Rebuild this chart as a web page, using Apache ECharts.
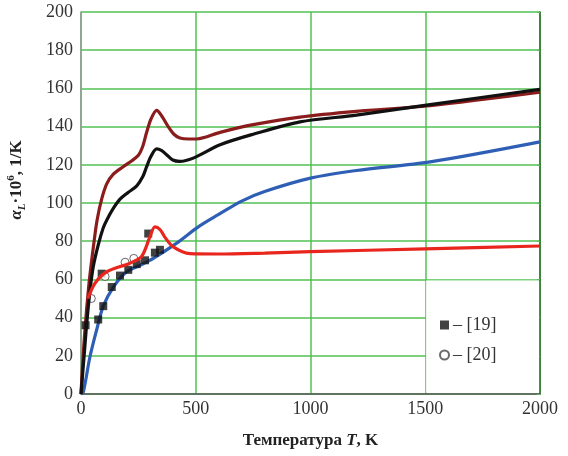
<!DOCTYPE html>
<html>
<head>
<meta charset="utf-8">
<script src="https://cdn.jsdelivr.net/npm/echarts@6/dist/echarts.min.js"></script>
<style>
  html, body { margin: 0; padding: 0; background: #fff; }
  #chart { width: 568px; height: 456px; }
</style>
</head>
<body>
<div id="chart"></div>
<script>
// curve data (T in K, alpha*1e6 in 1/K)
const darkRedT = [0, 15, 35, 55, 70, 90, 112, 140, 184, 220, 250, 270, 286, 305, 330, 355, 380, 405, 431, 470, 504, 606, 750, 954, 1200, 1521, 2000];
const darkRedV = [0, 30, 58, 78, 91, 102, 110, 115, 119, 122, 125, 130, 137, 144, 148.5, 145, 140, 136, 134, 133.5, 133.5, 137, 141, 145, 148, 151, 158];

const blackT = [0, 15, 25, 40, 54, 75, 97, 112, 140, 170, 205, 243, 270, 286, 305, 330, 350, 373, 400, 430, 489, 606, 750, 954, 1200, 1521, 2000];
const blackV = [0, 22, 37, 55, 67, 78, 87, 91, 97, 102, 105.5, 109, 114, 119, 124.5, 128.3, 127.5, 125.3, 122.5, 121.8, 123.5, 130.5, 136, 142.5, 146, 151.5, 159.5];

const blueT = [0, 10, 39, 68, 97, 141, 199, 260, 315, 417, 511, 600, 700, 800, 1000, 1200, 1521, 2000];
const blueV = [0, 1, 19.5, 33.5, 46, 56, 64, 67.5, 71, 79, 87.5, 94, 101, 106, 113, 117, 121.5, 132];

const redT = [30, 61, 112, 213, 264, 301, 322, 345, 366, 402, 475, 600, 800, 1000, 1500, 2000];
const redV = [50, 58, 64, 68.5, 72, 82.5, 87.5, 86, 82, 77, 73.5, 73.3, 73.8, 74.5, 76, 77.5];

// experimental points
const ref19T = [20, 75, 90, 97, 134, 170, 206, 243, 279, 293, 322, 344];
const ref19V = [36, 39, 63, 46, 56, 62, 65, 68, 70, 84, 74, 75.5];
const ref20T = [45, 105, 192, 230];
const ref20V = [50, 61.5, 69, 71];

const xTicks = { min: 0, max: 2000, step: 500 };
const yTicks = { min: 0, max: 200, step: 20 };

const pairs = (xs, ys) => xs.map((x, i) => [x, ys[i]]);

const serif = 'Liberation Serif';
const gridGreen = '#52c152';
const textColor = '#222';

const chart = echarts.init(document.getElementById('chart'));

const lineSeries = (name, xs, ys, color, z) => ({
  name: name,
  type: 'line',
  data: pairs(xs, ys),
  smooth: 0.3,
  showSymbol: false,
  lineStyle: { color: color, width: 3.2 },
  z: z
});

const option = {
  animation: false,
  backgroundColor: '#fff',
  grid: { left: 81, right: 28, top: 12, bottom: 62 },
  legend: {
    orient: 'vertical',
    left: 434,
    top: 311,
    itemWidth: 9,
    itemHeight: 9,
    itemGap: 12,
    data: [
      { name: '– [19]', icon: 'rect' },
      { name: '– [20]', icon: 'circle' }
    ],
    textStyle: { fontFamily: serif, fontSize: 18, color: '#333', padding: [0, 0, 0, -1] }
  },
  // y axis title, placed like the original
  graphic: [{
    type: 'text',
    x: 17,
    y: 180,
    rotation: Math.PI / 2,
    style: {
      text: '{a|α}{s|L}{n|·10}{p|6}{n|, 1/K}',
      align: 'center',
      verticalAlign: 'middle',
      rich: {
        a: { fontFamily: serif, fontSize: 17, fontWeight: 'bold', fontStyle: 'italic', fill: textColor, lineHeight: 22 },
        s: { fontFamily: serif, fontSize: 11, fontWeight: 'bold', fontStyle: 'italic', fill: textColor, lineHeight: 22, verticalAlign: 'bottom', padding: [6, 0, 0, 0] },
        n: { fontFamily: serif, fontSize: 17, fontWeight: 'bold', fill: textColor, lineHeight: 22 },
        p: { fontFamily: serif, fontSize: 11, fontWeight: 'bold', fill: textColor, lineHeight: 22, verticalAlign: 'top', padding: [0, 0, 6, 0] }
      }
    }
  }],
  xAxis: {
    type: 'value',
    min: xTicks.min,
    max: xTicks.max,
    interval: xTicks.step,
    name: '{b|Температура }{i|T}{b|, K}',
    nameLocation: 'middle',
    nameGap: 38,
    nameTextStyle: {
      rich: {
        b: { fontFamily: serif, fontSize: 17, fontWeight: 'bold', color: textColor },
        i: { fontFamily: serif, fontSize: 17, fontWeight: 'bold', fontStyle: 'italic', color: textColor }
      }
    },
    axisLine: { lineStyle: { color: '#555', width: 1.5 } },
    axisTick: { show: false },
    axisLabel: { fontFamily: serif, fontSize: 18, color: '#333', margin: 6, formatter: v => String(v) },
    splitLine: { lineStyle: { color: gridGreen, width: 1.5 } }
  },
  yAxis: [
    {
      type: 'value',
      min: yTicks.min,
      max: yTicks.max,
      interval: yTicks.step,
      axisLine: { show: true, lineStyle: { color: '#9a9a9a', width: 1.5 } },
      axisTick: { show: false },
      axisLabel: { fontFamily: serif, fontSize: 18, color: '#333', margin: 8 },
      splitLine: { lineStyle: { color: gridGreen, width: 1.5 } }
    },
    {
      type: 'value',
      position: 'right',
      min: yTicks.min,
      max: yTicks.max,
      interval: yTicks.step,
      axisLine: { show: true, lineStyle: { color: '#2a6a2a', width: 1.5 } },
      axisTick: { show: true, inside: true, length: 3, lineStyle: { color: gridGreen } },
      axisLabel: { show: false },
      splitLine: { show: false }
    }
  ],
  series: [
    Object.assign(lineSeries('blue', blueT, blueV, '#2f5fb5', 3), {
      markArea: {
        silent: true,
        itemStyle: { color: '#fff' },
        data: [[{ coord: [1504, 0.6] }, { coord: [1996, 59.4] }]]
      }
    }),
    lineSeries('darkred', darkRedT, darkRedV, '#8b1c1c', 4),
    lineSeries('black', blackT, blackV, '#111', 5),
    {
      name: '– [19]',
      type: 'scatter',
      data: pairs(ref19T, ref19V),
      symbol: 'rect',
      symbolSize: 8,
      itemStyle: { color: '#111' },
      z: 4
    },
    {
      name: '– [20]',
      type: 'scatter',
      data: pairs(ref20T, ref20V),
      symbol: 'circle',
      symbolSize: 8,
      itemStyle: { color: '#fff', borderColor: '#444', borderWidth: 1 },
      z: 4
    },
    lineSeries('red', redT, redV, '#e8261e', 6)
  ]
};

chart.setOption(option);
</script>
</body>
</html>
